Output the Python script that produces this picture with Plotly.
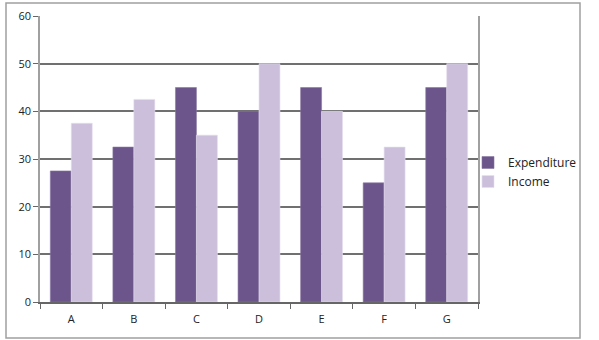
import plotly.graph_objects as go

categories = ["A", "B", "C", "D", "E", "F", "G"]
expenditure = [27.5, 32.5, 45, 40, 45, 25, 45]
income = [37.5, 42.5, 35, 50, 40, 32.5, 50]
y_ticks = [0, 10, 20, 30, 40, 50, 60]

W, H = 599, 340
L, R, T, B = 40, 121, 16, 38
pw, ph = W - L - R, H - T - B

fig = go.Figure()
fig.add_trace(go.Bar(x=categories, y=expenditure, name="Expenditure",
                     marker=dict(color="#6c558a", line=dict(color="#8a77a3", width=0.6))))
fig.add_trace(go.Bar(x=categories, y=income, name="Income",
                     marker=dict(color="#cbbfdb", line=dict(color="#e6dfee", width=0.6))))

def px_x(p):
    return (p - L) / pw

def px_y(p):
    return (H - B - p) / ph

fig.add_shape(type="rect", xref="paper", yref="paper",
              x0=px_x(6), x1=px_x(580), y0=px_y(338), y1=px_y(3),
              line=dict(color="#a0a0a0", width=1.5), layer="below")

fig.update_layout(
    width=W, height=H,
    margin=dict(l=L, r=R, t=T, b=B, autoexpand=False),
    paper_bgcolor="white", plot_bgcolor="white",
    barmode="group", bargap=0.33, bargroupgap=0,
    font=dict(family="Open Sans", size=11, color="#222"),
    showlegend=True,
    legend=dict(x=px_x(468), y=px_y(148), xanchor="left", yanchor="top",
                font=dict(size=12, color="#222"), itemwidth=30,
                tracegroupgap=0, bgcolor="rgba(0,0,0,0)"),
    xaxis=dict(showgrid=False, showline=True, linecolor="#666", linewidth=1.5,
               ticks="outside", tickson="boundaries", ticklen=5, tickcolor="#666",
               tickfont=dict(size=11), ticklabelstandoff=6, mirror=False),
    yaxis=dict(range=[0, 60], tickvals=y_ticks, showgrid=True, gridcolor="#707070",
               gridwidth=1.5, showline=True, linecolor="#a0a0a0", linewidth=1.5,
               ticks="outside", ticklen=5, tickcolor="#666", mirror=True,
               zeroline=False, tickfont=dict(size=11)),
)

fig.write_html("out.html")
